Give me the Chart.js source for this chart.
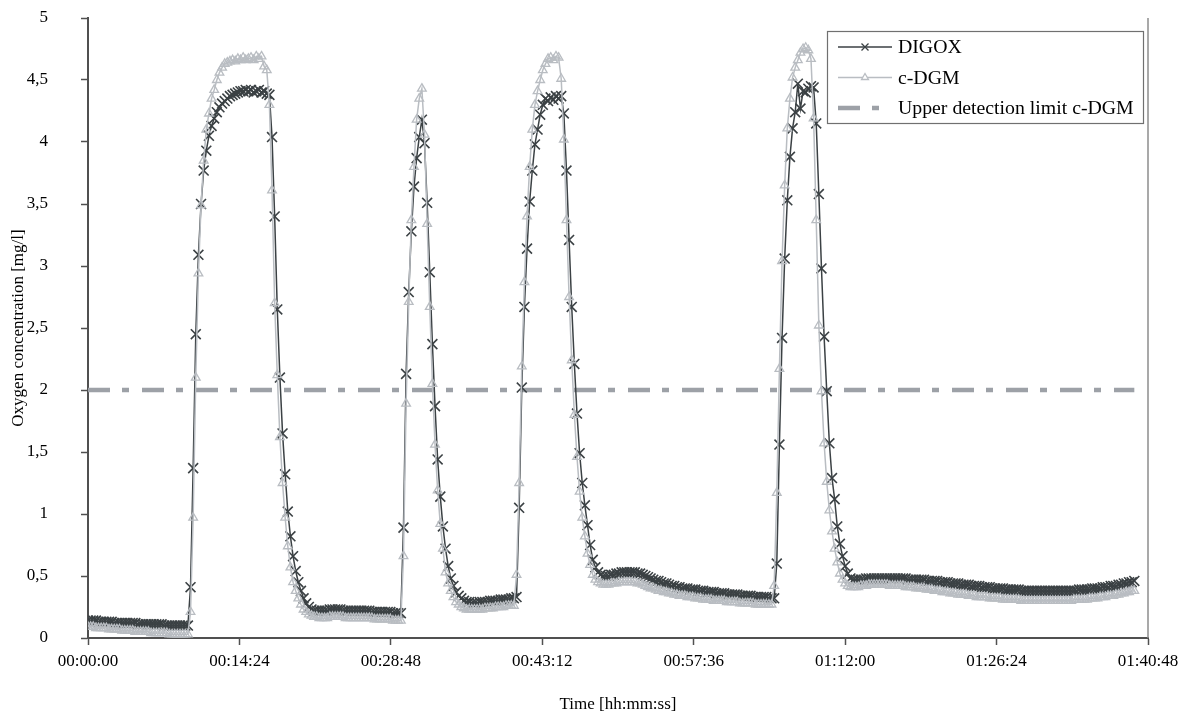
<!DOCTYPE html>
<html>
<head>
<meta charset="utf-8">
<title>Oxygen concentration - DIGOX vs c-DGM</title>
<script src="https://cdn.jsdelivr.net/npm/chart.js@4.4.1/dist/chart.umd.min.js"></script>
<style>
    html, body { margin: 0; padding: 0; background: #ffffff; }
    canvas { display: block; }
</style>
</head>
<body>
<canvas id="oxygenChart" width="1197" height="715"></canvas>
<script>
// one reading every 15 s
const SAMPLE_STEP_S = 15;
const UPPER_LIMIT = 2;

const timeTickLabels = ['00:00:00', '00:14:24', '00:28:48', '00:43:12', '00:57:36', '01:12:00', '01:26:24', '01:40:48'];
const oxygenTickLabels = ['0', '0,5', '1', '1,5', '2', '2,5', '3', '3,5', '4', '4,5', '5'];

const digox = [
    0.14,0.14,0.14,0.14,0.13,0.13,0.13,0.13,0.13,0.13,
    0.12,0.12,0.12,0.12,0.12,0.12,0.12,0.12,0.12,0.11,
    0.11,0.11,0.11,0.11,0.11,0.11,0.11,0.11,0.11,0.10,
    0.10,0.10,0.10,0.10,0.10,0.10,0.10,0.10,0.10,0.41,
    1.37,2.45,3.09,3.50,3.77,3.93,4.05,4.13,4.19,4.24,
    4.28,4.31,4.33,4.35,4.37,4.38,4.39,4.40,4.41,4.41,
    4.42,4.41,4.42,4.40,4.41,4.42,4.40,4.41,4.39,4.38,
    4.04,3.40,2.65,2.10,1.65,1.32,1.02,0.82,0.66,0.54,
    0.45,0.38,0.32,0.28,0.25,0.23,0.22,0.22,0.22,0.22,
    0.22,0.22,0.23,0.23,0.23,0.23,0.23,0.22,0.22,0.22,
    0.22,0.22,0.22,0.22,0.22,0.22,0.22,0.22,0.21,0.21,
    0.21,0.21,0.21,0.21,0.21,0.21,0.20,0.20,0.20,0.20,
    0.89,2.13,2.79,3.28,3.64,3.87,4.04,4.18,3.99,3.51,
    2.95,2.37,1.87,1.44,1.14,0.90,0.72,0.58,0.48,0.42,
    0.37,0.34,0.32,0.30,0.29,0.29,0.28,0.28,0.28,0.29,
    0.29,0.29,0.29,0.30,0.30,0.30,0.30,0.31,0.31,0.31,
    0.31,0.32,0.32,0.33,1.05,2.02,2.67,3.14,3.52,3.77,
    3.98,4.10,4.22,4.30,4.35,4.33,4.36,4.34,4.37,4.35,
    4.37,4.23,3.77,3.21,2.67,2.21,1.81,1.49,1.25,1.07,
    0.91,0.75,0.63,0.57,0.53,0.51,0.50,0.50,0.50,0.51,
    0.51,0.52,0.52,0.53,0.53,0.53,0.53,0.53,0.53,0.52,
    0.52,0.51,0.50,0.49,0.48,0.47,0.46,0.46,0.45,0.44,
    0.44,0.43,0.42,0.42,0.41,0.41,0.40,0.40,0.40,0.39,
    0.39,0.39,0.38,0.38,0.38,0.37,0.37,0.37,0.37,0.36,
    0.36,0.36,0.36,0.35,0.35,0.35,0.35,0.35,0.34,0.34,
    0.34,0.34,0.34,0.33,0.33,0.33,0.33,0.33,0.33,0.32,
    0.32,0.32,0.60,1.56,2.42,3.06,3.53,3.88,4.11,4.24,
    4.47,4.27,4.41,4.40,4.43,4.45,4.44,4.15,3.58,2.98,
    2.43,1.99,1.57,1.29,1.12,0.90,0.76,0.66,0.58,0.52,
    0.48,0.47,0.47,0.47,0.47,0.47,0.48,0.48,0.48,0.48,
    0.48,0.48,0.48,0.48,0.48,0.48,0.48,0.48,0.48,0.48,
    0.48,0.48,0.47,0.47,0.47,0.47,0.47,0.47,0.47,0.46,
    0.46,0.46,0.46,0.46,0.45,0.45,0.45,0.45,0.44,0.44,
    0.44,0.44,0.43,0.43,0.43,0.43,0.42,0.42,0.42,0.42,
    0.41,0.41,0.41,0.41,0.40,0.40,0.40,0.40,0.40,0.39,
    0.39,0.39,0.39,0.39,0.39,0.38,0.38,0.38,0.38,0.38,
    0.38,0.38,0.38,0.38,0.38,0.38,0.38,0.38,0.38,0.38,
    0.38,0.38,0.38,0.38,0.38,0.38,0.38,0.39,0.39,0.39,
    0.39,0.39,0.40,0.40,0.40,0.40,0.41,0.41,0.41,0.42,
    0.42,0.42,0.43,0.43,0.44,0.44,0.45,0.45,0.46
];

const cdgm = [
    0.09,0.09,0.09,0.08,0.08,0.08,0.08,0.08,0.07,0.07,
    0.07,0.07,0.07,0.06,0.06,0.06,0.06,0.06,0.05,0.05,
    0.05,0.05,0.05,0.05,0.04,0.04,0.04,0.04,0.04,0.04,
    0.04,0.03,0.03,0.03,0.03,0.03,0.03,0.03,0.03,0.21,
    0.97,2.10,2.94,3.49,3.85,4.10,4.23,4.35,4.42,4.50,
    4.56,4.60,4.63,4.64,4.65,4.66,4.65,4.67,4.66,4.68,
    4.66,4.67,4.68,4.66,4.69,4.67,4.69,4.61,4.58,4.30,
    3.61,2.70,2.12,1.62,1.25,0.97,0.74,0.57,0.45,0.38,
    0.32,0.27,0.23,0.21,0.19,0.18,0.17,0.17,0.16,0.16,
    0.16,0.16,0.17,0.17,0.17,0.17,0.17,0.17,0.16,0.16,
    0.16,0.16,0.16,0.16,0.16,0.16,0.16,0.16,0.16,0.15,
    0.15,0.15,0.15,0.15,0.15,0.15,0.14,0.14,0.14,0.14,
    0.66,1.89,2.71,3.37,3.80,4.18,4.35,4.43,4.06,3.34,
    2.67,2.05,1.56,1.19,0.92,0.72,0.53,0.44,0.38,0.33,
    0.29,0.27,0.25,0.24,0.23,0.23,0.23,0.23,0.23,0.23,
    0.23,0.24,0.24,0.24,0.24,0.25,0.25,0.25,0.25,0.26,
    0.26,0.26,0.26,0.51,1.25,2.19,2.87,3.40,3.80,4.10,
    4.30,4.41,4.50,4.58,4.63,4.67,4.68,4.66,4.69,4.68,
    4.51,4.02,3.37,2.75,2.24,1.80,1.46,1.18,0.97,0.82,
    0.68,0.59,0.51,0.47,0.45,0.44,0.43,0.43,0.43,0.44,
    0.44,0.44,0.45,0.45,0.45,0.45,0.45,0.45,0.45,0.44,
    0.44,0.43,0.42,0.41,0.40,0.40,0.39,0.38,0.38,0.37,
    0.37,0.36,0.36,0.35,0.35,0.34,0.34,0.34,0.33,0.33,
    0.33,0.32,0.32,0.32,0.31,0.31,0.31,0.31,0.30,0.30,
    0.30,0.30,0.30,0.29,0.29,0.29,0.29,0.29,0.28,0.28,
    0.28,0.28,0.28,0.28,0.27,0.27,0.27,0.27,0.27,0.27,
    0.27,0.42,1.17,2.17,3.04,3.65,4.11,4.35,4.52,4.60,
    4.66,4.72,4.75,4.76,4.74,4.67,4.19,3.37,2.52,1.99,
    1.57,1.26,1.03,0.86,0.72,0.61,0.52,0.47,0.44,0.42,
    0.41,0.41,0.41,0.41,0.42,0.42,0.42,0.43,0.43,0.43,
    0.43,0.43,0.43,0.43,0.43,0.42,0.42,0.42,0.42,0.42,
    0.42,0.41,0.41,0.41,0.41,0.40,0.40,0.40,0.40,0.39,
    0.39,0.39,0.38,0.38,0.38,0.37,0.37,0.37,0.36,0.36,
    0.36,0.35,0.35,0.35,0.35,0.34,0.34,0.34,0.33,0.33,
    0.33,0.33,0.33,0.32,0.32,0.32,0.32,0.32,0.31,0.31,
    0.31,0.31,0.31,0.31,0.31,0.30,0.30,0.30,0.30,0.30,
    0.30,0.30,0.30,0.30,0.30,0.30,0.30,0.30,0.30,0.30,
    0.30,0.30,0.30,0.30,0.30,0.31,0.31,0.31,0.31,0.31,
    0.31,0.32,0.32,0.32,0.32,0.33,0.33,0.33,0.34,0.34,
    0.34,0.35,0.35,0.36,0.36,0.37,0.37,0.38,0.38
];

const SERIF = "'Liberation Serif', 'Times New Roman', serif";
const DARK = '#3b4144';
const LIGHT = '#b9bdc2';
const LIMIT = '#9da1a7';
const AXIS = '#505050';

const toPoints = values => values.map((v, i) => ({ x: i * SAMPLE_STEP_S, y: v }));
const lastTime = (digox.length - 1) * SAMPLE_STEP_S;

// plot frame on the right + boxed legend in the upper right corner
const frameAndKey = {
    id: 'frameAndKey',
    afterDraw(chart) {
        const { ctx, chartArea } = chart;
        ctx.save();
        ctx.strokeStyle = '#8c8c8c';
        ctx.lineWidth = 1.5;
        ctx.beginPath();
        ctx.moveTo(chartArea.right, chartArea.top);
        ctx.lineTo(chartArea.right, chartArea.bottom);
        ctx.stroke();

        const boxW = 316, boxH = 92;
        const bx = chartArea.right - 5 - boxW;
        const by = chartArea.top + 13;
        ctx.fillStyle = '#ffffff';
        ctx.fillRect(bx, by, boxW, boxH);
        ctx.strokeStyle = '#707070';
        ctx.lineWidth = 1.2;
        ctx.strokeRect(bx + 0.5, by + 0.5, boxW, boxH);

        ctx.font = '19.8px ' + SERIF;
        ctx.textBaseline = 'middle';
        ctx.textAlign = 'left';
        chart.data.datasets.forEach((ds, k) => {
            const y = by + 16 + k * 30.5;
            const x0 = bx + 11, x1 = bx + 65, xm = (x0 + x1) / 2;
            ctx.strokeStyle = ds.borderColor;
            ctx.lineWidth = ds.borderWidth;
            ctx.setLineDash(ds.borderDash || []);
            ctx.beginPath();
            ctx.moveTo(x0, y);
            ctx.lineTo(x1, y);
            ctx.stroke();
            ctx.setLineDash([]);
            ctx.lineWidth = 1.3;
            if (ds.pointStyle === 'crossRot') {
                const r = 3.5;
                ctx.beginPath();
                ctx.moveTo(xm - r, y - r); ctx.lineTo(xm + r, y + r);
                ctx.moveTo(xm - r, y + r); ctx.lineTo(xm + r, y - r);
                ctx.stroke();
            } else if (ds.pointStyle === 'triangle') {
                const r = 4;
                ctx.fillStyle = '#ffffff';
                ctx.beginPath();
                ctx.moveTo(xm, y - r);
                ctx.lineTo(xm + r * 0.87, y + r * 0.5);
                ctx.lineTo(xm - r * 0.87, y + r * 0.5);
                ctx.closePath();
                ctx.fill();
                ctx.stroke();
            }
            ctx.fillStyle = '#000000';
            ctx.fillText(ds.label, bx + 71, y + 1);
        });
        ctx.restore();
    }
};

const ctx = document.getElementById('oxygenChart').getContext('2d');
const chart = new Chart(ctx, {
    type: 'line',
    data: {
        datasets: [{
            label: 'DIGOX',
            data: toPoints(digox),
            borderColor: DARK,
            borderWidth: 1.5,
            pointStyle: 'crossRot',
            pointRadius: 7,
            pointBorderWidth: 1.6,
            pointBorderColor: DARK,
            pointBackgroundColor: DARK,
            tension: 0,
            order: 2
        }, {
            label: 'c-DGM',
            data: toPoints(cdgm),
            borderColor: LIGHT,
            borderWidth: 1.5,
            pointStyle: 'triangle',
            pointRadius: 5,
            pointBorderWidth: 1.3,
            pointBorderColor: LIGHT,
            pointBackgroundColor: 'rgba(255,255,255,0)',
            tension: 0,
            order: 1
        }, {
            label: 'Upper detection limit c-DGM',
            data: [{ x: 0, y: UPPER_LIMIT }, { x: lastTime, y: UPPER_LIMIT }],
            borderColor: LIMIT,
            borderWidth: 4.5,
            borderDash: [22, 12, 7, 13],
            pointRadius: 0,
            order: 3
        }]
    },
    options: {
        responsive: false,
        animation: false,
        events: [],
        layout: {
            padding: { left: 0, right: 49, top: 18, bottom: 0 }
        },
        plugins: {
            legend: { display: false },
            tooltip: { enabled: false }
        },
        scales: {
            x: {
                type: 'linear',
                min: 0,
                max: 6048,
                afterFit(scale) { scale.height = 77; },
                grid: {
                    drawOnChartArea: false,
                    tickLength: 7,
                    tickColor: AXIS,
                    tickWidth: 1.5
                },
                border: { color: AXIS, width: 2 },
                ticks: {
                    stepSize: 864,
                    maxRotation: 0,
                    autoSkip: false,
                    padding: 6,
                    color: '#000000',
                    font: { family: SERIF, size: 17 },
                    callback: (value, index) => timeTickLabels[index]
                },
                title: {
                    display: true,
                    text: 'Time [hh:mm:ss]',
                    color: '#000000',
                    font: { family: SERIF, size: 17 },
                    padding: { top: 0, bottom: 0 }
                }
            },
            y: {
                min: 0,
                max: 5,
                afterFit(scale) {
                    scale.width = 88;
                    // the wide label gap should not push the plot area down
                    scale.paddingTop = 0;
                    scale.paddingBottom = 0;
                },
                grid: {
                    drawOnChartArea: false,
                    tickLength: 7,
                    tickColor: AXIS,
                    tickWidth: 1.5
                },
                border: { color: AXIS, width: 2 },
                ticks: {
                    stepSize: 0.5,
                    padding: 33,
                    color: '#000000',
                    font: { family: SERIF, size: 17 },
                    callback: (value, index) => oxygenTickLabels[index]
                },
                title: {
                    display: true,
                    text: 'Oxygen concentration [mg/l]',
                    color: '#000000',
                    font: { family: SERIF, size: 17 },
                    padding: { top: 8, bottom: 0 }
                }
            }
        }
    },
    plugins: [frameAndKey]
});
</script>
</body>
</html>
